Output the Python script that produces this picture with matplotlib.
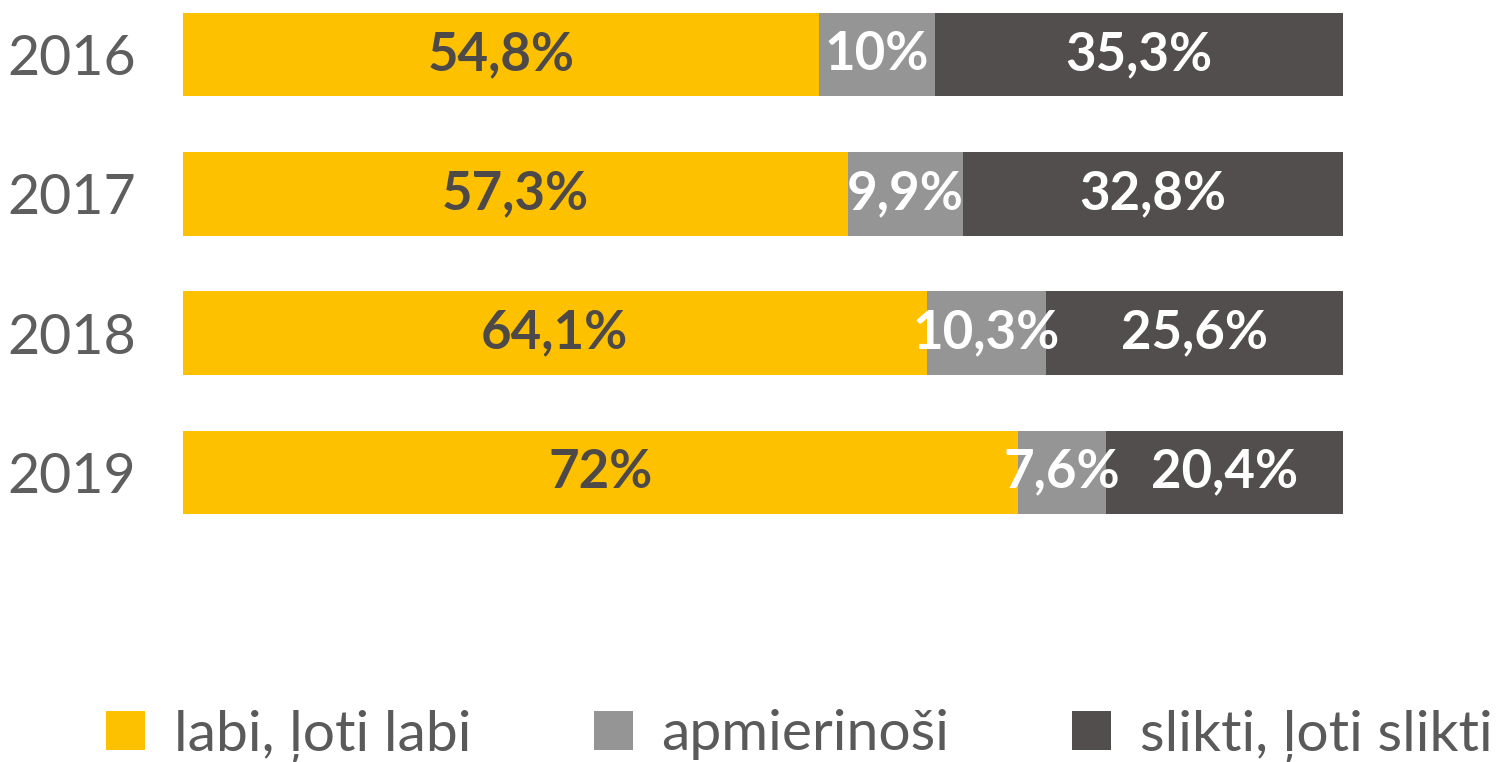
import matplotlib
matplotlib.use("Agg")
import matplotlib.pyplot as plt
import numpy as np

years = ["2016", "2017", "2018", "2019"]
series_names = ["labi, ļoti labi", "apmierinoši", "slikti, ļoti slikti"]
good = [54.8, 57.3, 64.1, 72.0]
ok = [10.0, 9.9, 10.3, 7.6]
bad = [35.3, 32.8, 25.6, 20.4]
good_labels = ["54,8%", "57,3%", "64,1%", "72%"]
ok_labels = ["10%", "9,9%", "10,3%", "7,6%"]
bad_labels = ["35,3%", "32,8%", "25,6%", "20,4%"]

colors = ["#FDC100", "#959595", "#524E4E"]
label_colors = ["#4D4949", "white", "white"]

plt.rcParams['font.family'] = ['Lato', 'DejaVu Sans']

fig = plt.figure(figsize=(15.06, 7.62), dpi=100)
ax = fig.add_axes([183/1506, (762-514)/762, 1160/1506, 501/762])

y = np.arange(len(years))
left = np.zeros(len(years))
for vals, labs, col, lcol, name in zip([good, ok, bad],
                                       [good_labels, ok_labels, bad_labels],
                                       colors, label_colors, series_names):
    bars = ax.barh(y, vals, left=left, height=0.6, color=col, label=name)
    ax.bar_label(bars, labels=labs, label_type='center', color=lcol,
                 fontsize=38, fontweight='bold')
    left = left + np.array(vals)

ax.set_xlim(0, 100)
ax.set_ylim(3.3, -0.3)
ax.set_yticks(y)
ax.set_yticklabels(years, fontsize=40, color="#5E5E5E", fontweight='normal')
ax.tick_params(axis='y', length=0, pad=34)
ax.set_xticks([])
for s in ax.spines.values():
    s.set_visible(False)

fig.legend(loc='lower left', bbox_to_anchor=(106/1506, 0.5/762), ncol=3,
           frameon=False, handlelength=0.69, handleheight=0.69,
           handletextpad=0.5, columnspacing=2.15, borderpad=0, borderaxespad=0,
           labelcolor="#5A5A5A", prop={'weight': 'normal', 'size': 41})

fig.savefig("out.png", dpi=100)
